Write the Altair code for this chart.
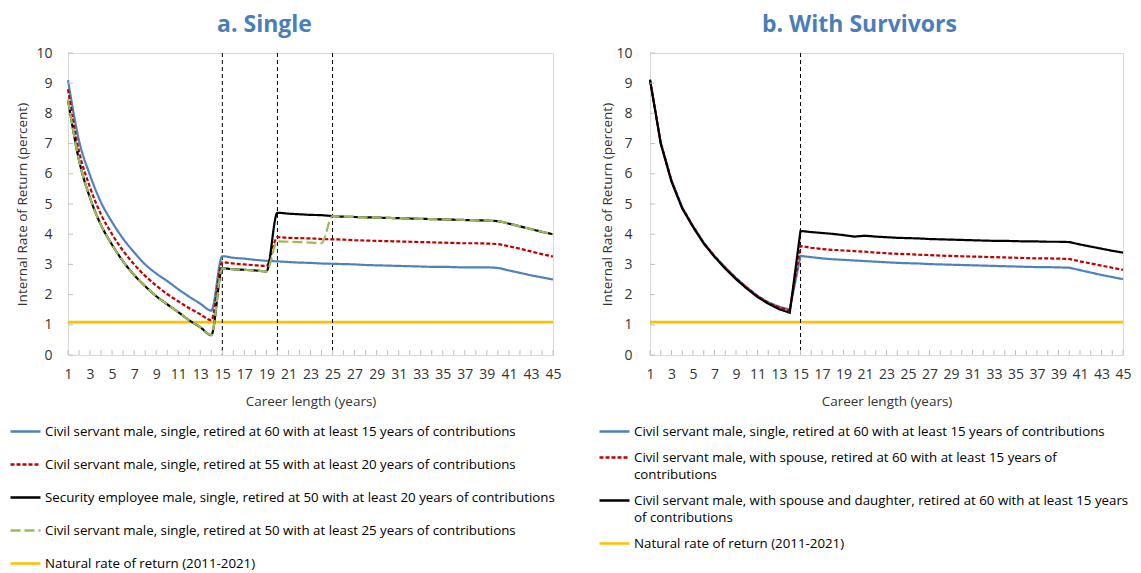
import altair as alt
import pandas as pd

FONT = "Open Sans"
years = list(range(1, 46))
odd_years = list(range(1, 46, 2))
y_ticks = list(range(0, 11))

# ---------- Panel a: Single ----------
a_names = [
    "Civil servant male, single, retired at 60 with at least 15 years of contributions",
    "Civil servant male, single, retired at 55 with at least 20 years of contributions",
    "Security employee male, single, retired at 50 with at least 20 years of contributions",
    "Civil servant male, single, retired at 50 with at least 25 years of contributions",
    "Natural rate of return (2011-2021)",
]
a_civil60 = [9.10, 7.10, 5.95, 5.05, 4.40, 3.85, 3.40, 3.00, 2.70, 2.45, 2.18, 1.93, 1.70, 1.47,
             3.27, 3.22, 3.19, 3.15, 3.12, 3.10, 3.08, 3.06, 3.05, 3.03, 3.02, 3.01, 3.00, 2.98,
             2.97, 2.96, 2.95, 2.94, 2.93, 2.92, 2.92, 2.91, 2.90, 2.90, 2.90, 2.88, 2.80, 2.72,
             2.64, 2.57, 2.50]
a_civil55 = [8.80, 6.75, 5.55, 4.65, 4.00, 3.45, 3.00, 2.62, 2.30, 2.02, 1.78, 1.55, 1.35, 1.15,
             3.07, 3.03, 3.00, 2.97, 2.95, 3.90, 3.88, 3.87, 3.86, 3.84, 3.83, 3.82, 3.80, 3.79,
             3.78, 3.77, 3.76, 3.75, 3.74, 3.73, 3.72, 3.71, 3.70, 3.70, 3.69, 3.67, 3.60, 3.52,
             3.43, 3.34, 3.26]
a_security50 = [8.45, 6.45, 5.20, 4.30, 3.65, 3.10, 2.65, 2.28, 1.95, 1.68, 1.42, 1.15, 0.92, 0.66,
                2.87, 2.84, 2.82, 2.80, 2.77, 4.71, 4.68, 4.66, 4.64, 4.63, 4.60, 4.58, 4.57, 4.56,
                4.55, 4.54, 4.53, 4.52, 4.51, 4.50, 4.49, 4.48, 4.47, 4.46, 4.45, 4.43, 4.35, 4.26,
                4.17, 4.08, 4.00]
a_civil50 = [8.45, 6.45, 5.20, 4.30, 3.65, 3.10, 2.65, 2.28, 1.95, 1.68, 1.42, 1.15, 0.92, 0.66,
             2.87, 2.84, 2.82, 2.80, 2.77, 3.76, 3.75, 3.74, 3.72, 3.70, 4.60, 4.58, 4.57, 4.56,
             4.55, 4.54, 4.53, 4.52, 4.51, 4.50, 4.49, 4.48, 4.47, 4.46, 4.45, 4.43, 4.35, 4.26,
             4.17, 4.08, 4.00]
natural_rate = [1.09] * 45
a_vlines = [15, 20, 25]

# ---------- Panel b: With Survivors ----------
b_names = [
    "Civil servant male, single, retired at 60 with at least 15 years of contributions",
    "Civil servant male, with spouse, retired at 60 with at least 15 years of contributions",
    "Civil servant male, with spouse and daughter, retired at 60 with at least 15 years of contributions",
    "Natural rate of return (2011-2021)",
]
b_civil60 = [9.10, 7.03, 5.78, 4.88, 4.27, 3.72, 3.28, 2.90, 2.55, 2.24, 1.96, 1.74, 1.60, 1.50,
             3.28, 3.24, 3.20, 3.17, 3.15, 3.13, 3.11, 3.09, 3.07, 3.05, 3.04, 3.03, 3.01, 3.00,
             2.99, 2.98, 2.97, 2.96, 2.95, 2.94, 2.93, 2.92, 2.91, 2.91, 2.90, 2.89, 2.81, 2.73,
             2.65, 2.58, 2.51]
b_spouse = [9.10, 7.02, 5.77, 4.87, 4.26, 3.71, 3.27, 2.89, 2.54, 2.23, 1.95, 1.73, 1.58, 1.48,
            3.61, 3.55, 3.51, 3.48, 3.46, 3.44, 3.42, 3.39, 3.37, 3.35, 3.34, 3.32, 3.31, 3.29,
            3.28, 3.27, 3.26, 3.25, 3.24, 3.23, 3.22, 3.21, 3.20, 3.20, 3.19, 3.18, 3.10, 3.03,
            2.96, 2.89, 2.82]
b_daughter = [9.12, 7.00, 5.74, 4.85, 4.24, 3.69, 3.25, 2.86, 2.51, 2.20, 1.92, 1.70, 1.52, 1.40,
              4.11, 4.07, 4.04, 4.01, 3.97, 3.92, 3.95, 3.92, 3.90, 3.88, 3.87, 3.86, 3.84, 3.83,
              3.82, 3.81, 3.80, 3.79, 3.78, 3.78, 3.77, 3.76, 3.76, 3.75, 3.75, 3.74, 3.66, 3.59,
              3.52, 3.45, 3.39]
b_vlines = [15]

BLUE, RED, BLACK, GREEN, YELLOW = "#4E81BD", "#C00000", "#000000", "#9BBB59", "#FFC000"
SOLID, SHORT, LONG = [1, 0], [4, 2], [10, 4]

WRAP = ("length(datum.label) > 85 ? "
        "[substring(datum.label, 0, lastindexof(substring(datum.label, 0, 83), ' ')), "
        "substring(datum.label, lastindexof(substring(datum.label, 0, 83), ' ') + 1)] "
        ": datum.label")


def panel(title, title_dx, names, series, colors, dashes, draw_order, vlines, w, h,
          lx, ly, row_pad, smooth, ylab_pad, ytitle_pad, label_expr=None):
    frames = [pd.DataFrame({"year": years, "value": vals, "series": nm})
              for nm, vals in zip(names, series)]
    df = pd.concat(frames, ignore_index=True)

    leg_kwargs = dict(title=None, orient="none", legendX=lx, legendY=ly,
                      direction="vertical", symbolType="stroke", symbolSize=900,
                      symbolStrokeWidth=2.5, labelFontSize=13.3, labelFont=FONT,
                      labelColor="#000000", labelLimit=800, labelOffset=3,
                      padding=0, rowPadding=row_pad)
    if label_expr:
        leg_kwargs["labelExpr"] = label_expr
    legend = alt.Legend(**leg_kwargs)

    xs = alt.Scale(domain=[1, 45], nice=False, zero=False)
    ys = alt.Scale(domain=[0, 10], nice=False)
    x_axis = alt.Axis(values=odd_years, title="Career length (years)", format="d",
                      ticks=False, grid=False, labelPadding=12, titlePadding=13,
                      labelFlush=False, labelOverlap=False, domainColor="#D9D9D9")
    y_axis = alt.Axis(values=y_ticks, title="Internal Rate of Return (percent)",
                      ticks=False, grid=False, labelPadding=ylab_pad,
                      titlePadding=ytitle_pad, labelOverlap=False, domainColor="#D9D9D9")
    x_enc = alt.X("year:Q", scale=xs, axis=x_axis)
    y_enc = alt.Y("value:Q", scale=ys, axis=y_axis)
    color = alt.Color("series:N", scale=alt.Scale(domain=names, range=colors), legend=legend)
    dash = alt.StrokeDash("series:N", scale=alt.Scale(domain=names, range=dashes), legend=legend)

    xt = alt.Chart(pd.DataFrame({"year": years})).mark_rule(color="#BFBFBF", strokeWidth=1).encode(
        x=x_enc, y=alt.value(h - 5), y2=alt.value(h))
    yt = alt.Chart(pd.DataFrame({"value": y_ticks})).mark_rule(color="#BFBFBF", strokeWidth=1).encode(
        y=y_enc, x=alt.value(0), x2=alt.value(5))
    vl = alt.Chart(pd.DataFrame({"year": vlines})).mark_rule(
        color="#000000", strokeWidth=1, strokeDash=[4, 3]).encode(x=x_enc)

    layers = []
    for i in draw_order:
        nm = names[i]
        width = 2.6 if colors[i] == YELLOW else 2.2
        line = alt.Chart(df[df.series == nm]).mark_line(
            strokeWidth=width, interpolate="monotone" if smooth else "linear").encode(
            x=x_enc, y=y_enc, color=color, strokeDash=dash)
        layers.append(line)
        if i == len(names) - 1:
            layers.append(vl)
    layers += [xt, yt]
    return alt.layer(*layers).properties(
        width=w, height=h,
        title=alt.TitleParams(title, fontSize=23, fontWeight="bold", color="#4A7EBB",
                              font=FONT, anchor="middle", dx=title_dx, offset=9))


left = panel("a. Single", -46, a_names,
             [a_civil60, a_civil55, a_security50, a_civil50, natural_rate],
             [BLUE, RED, BLACK, GREEN, YELLOW], [SOLID, SHORT, SOLID, LONG, SOLID],
             [4, 0, 1, 2, 3], a_vlines, 485, 302, -59, 362, 10, True, 16, 6.5)
right = panel("b. With Survivors", -27, b_names,
              [b_civil60, b_spouse, b_daughter, natural_rate],
              [BLUE, RED, BLACK, YELLOW], [SOLID, SHORT, SOLID, SOLID],
              [3, 0, 1, 2], b_vlines, 473, 302, -52, 362, 3, False, 18, 1, WRAP)

chart = alt.hconcat(left, right, spacing=35).resolve_scale(
    color="independent", strokeDash="independent").configure(
    padding={"left": 0, "top": 5, "right": 0, "bottom": 0},
    font=FONT,
    style={"guide-label": {"lineHeight": 17}},
).configure_view(stroke="#D9D9D9").configure_axis(
    labelFont=FONT, titleFont=FONT, labelFontSize=14, titleFontSize=13.5,
    labelColor="#333333", titleColor="#333333", titleFontWeight="normal",
    labelOverlap=False,
)

chart.save("out.html", embed_options={"renderer": "svg", "actions": False})
